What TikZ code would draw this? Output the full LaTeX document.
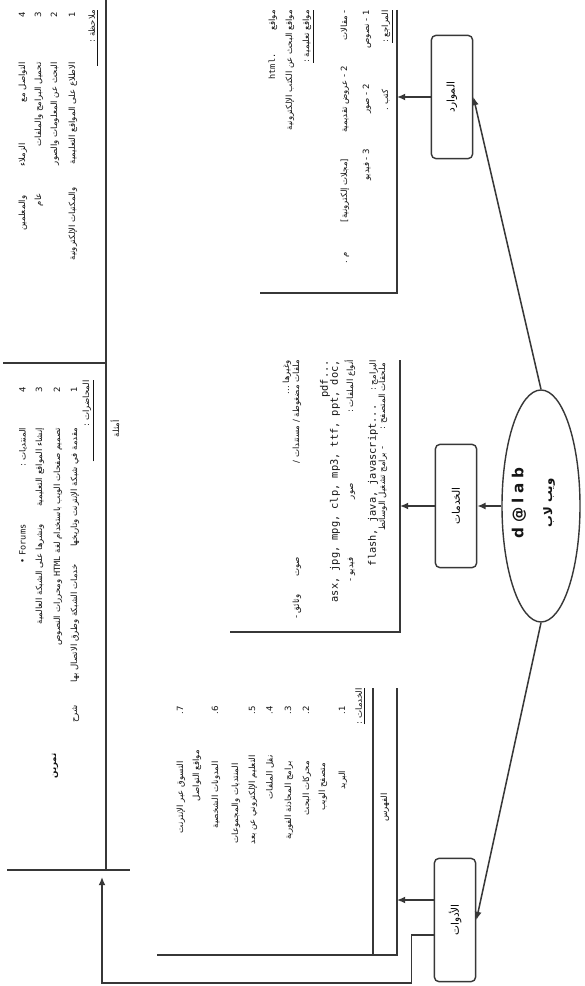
\documentclass[tikz,border=0pt]{standalone}
\usepackage{fontspec}
\usepackage{tikz}
\usetikzlibrary{shapes.geometric, arrows.meta, positioning, calc}
\TeXXeTstate=1
\newfontfamily\arabicfont[Script=Arabic]{DejaVu Sans}
\newfontfamily\latinfont{DejaVu Sans Mono}
\newfontfamily\logofont[LetterSpace=30]{DejaVu Sans}
\definecolor{trait}{RGB}{55, 55, 55}
\definecolor{encre}{RGB}{20, 20, 20}
\newcommand{\arb}[1]{{\arabicfont\beginR #1\endR}}
\newcommand{\sous}[1]{\underline{\beginR #1\endR}}

\begin{document}
\begin{tikzpicture}[x=0.03cm, y=-0.03cm,
  boite/.style={rectangle, draw=trait, rounded corners=4pt, line width=1.2pt,
    minimum width=1.24cm, minimum height=3.7cm, inner sep=0pt,
    font=\fontsize{9}{10}\selectfont},
  fleche/.style={draw=trait, line width=1.3pt, -{Latex[length=7pt, width=6pt]}},
  cadre/.style={draw=trait, line width=1.3pt},
  txt/.style={rotate=90, anchor=east, inner sep=0pt, text=encre,
    font=\fontsize{7.3}{8}\selectfont},
  latin/.style={txt, font=\latinfont\fontsize{8.8}{9}\selectfont},
  titre/.style={rotate=90, inner sep=0pt, text=encre},
]
\useasboundingbox (0,0) rectangle (584,986);
\fill[white] (0,0) rectangle (584,986);
\node[ellipse, draw=trait, line width=1.2pt, minimum width=2.34cm,
  minimum height=6.96cm] (site) at (541,506) {};
\node[titre, font=\bfseries\fontsize{10}{11}\selectfont] (nom) at (549,503) {\arb{ويب لاب}};
\node[titre, font=\logofont\bfseries\fontsize{13}{14}\selectfont] (logo) at (519,503) {d@lab};
\node[boite] (res)   at (452,97)  {\rotatebox{90}{\arb{الموارد}}};
\node[boite] (serv)  at (456,506) {\rotatebox{90}{\arb{الخدمات}}};
\node[boite] (tools) at (455,920) {\rotatebox{90}{\arb{الأدوات}}};
\coordinate (fres)   at (397,97);
\coordinate (fserv)  at (400,506);
\coordinate (ftools) at (397,900);
\coordinate (coin)   at (102,983);
\coordinate (fbas)   at (102,877);
\draw[fleche] (site.north) -- (res.east);
\draw[fleche] (site.west)  -- (serv.east);
\draw[fleche] (site.south) -- (tools.east);
\draw[fleche] (res.west)  -- (fres);
\draw[fleche] (serv.west) -- (fserv);
\draw[fleche] ($(tools.west)+(0,-20)$) -- (ftools);
\draw[fleche] ($(tools.west)+(0,15)$) -- ++(-22,0) |- (coin) -- (fbas);
\draw[cadre] (397,10)  -- (397,293) -- (260,293);
\draw[cadre] (400,360) -- (400,632) -- (230,632);
\draw[cadre] (397,688) -- (397,955) -- (157,955);
\draw[cadre] (373,688) -- (373,955);
\draw[cadre] (106,0)   -- (106,870);
\draw[cadre] (3,363)   -- (106,363);
\draw[cadre] (7,870)   -- (130,870);
\node[txt] (m1) at (387,10) {\arb{\sous{المراجع :}\hspace{40pt}كتب .}};
\node[txt] (m2) at (367,10) {\arb{1 - نصوص\hspace{30pt}2 - صور\hspace{30pt}3 - فيديو}};
\node[txt] (m3) at (345,10) {\arb{- مقالات\hspace{22pt}2 - عروض تقديمية\hspace{22pt}[مجلات إلكترونية]\hspace{26pt}م .}};
\node[txt] (m4) at (308,10) {\arb{\sous{مواقع تعليمية :}}};
\node[txt] (m5) at (290,10) {\arb{مواقع البحث عن الكتب الإلكترونية}};
\node[txt] (m6) at (273,10) {\arb{مواقع\hspace{20pt}{\latinfont\beginL html.\endL}}};
\node[txt] (s1) at (383,363) {\arb{ملحقات المتصفح :\hspace{15pt}- برامج تشغيل الوسائط}};
\node[txt] (s2) at (373,360) {\arb{البرامج :\hspace{12pt}{\latinfont\fontsize{8.8}{9}\selectfont\beginL flash, java, javascript...\endL}}};
\node[txt] (s3) at (350,360) {\arb{أنواع الملفات :\hspace{60pt}صور\hspace{50pt}فيديو -}};
\node[latin] (s4) at (335,360) {asx, jpg, mpg, clp, mp3, ttf, ppt, doc,};
\node[latin] (s5) at (325,360) {pdf...};
\node[txt] (s6) at (297,360) {\arb{ملفات مضغوطة / مستندات /\hspace{80pt}صوت\hspace{15pt}وثائق -}};
\node[txt] (s7) at (287,360) {\arb{وغيرها ...}};
\node[txt] (o0) at (385,793) {\arb{الفهرس}};
\node[txt] (o1) at (360,688) {\arb{\sous{الخدمات :}}};
\node[txt] (o2) at (343,706) {\arb{1.\hspace{48pt}البريد}};
\node[txt] (o3) at (323,763) {\arb{متصفح الويب}};
\node[txt] (o4) at (307,706) {\arb{2.\hspace{40pt}محركات البحث}};
\node[txt] (o5) at (289,706) {\arb{3.\hspace{40pt}برامج المحادثة الفورية}};
\node[txt] (o6) at (270,706) {\arb{4.\hspace{35pt}نقل الملفات}};
\node[txt] (o7) at (253,706) {\arb{5.\hspace{35pt}التعليم الإلكتروني عن بعد}};
\node[txt] (o8) at (236,763) {\arb{المنتديات والمجموعات}};
\node[txt] (o9) at (216,706) {\arb{6.\hspace{40pt}المدونات الشخصية}};
\node[txt] (o10) at (197,750) {\arb{مواقع التواصل}};
\node[txt] (o11) at (181,706) {\arb{7.\hspace{40pt}التسوق عبر الإنترنت}};
\node[txt] (g0) at (93,10) {\arb{\sous{ملاحظة :\hspace{20pt}}}};
\node[txt] (g1) at (73,12) {\arb{1\hspace{38pt}الاطلاع على المواقع التعليمية\hspace{20pt}والمكتبات الإلكترونية}};
\node[txt] (g2) at (55,12) {\arb{2\hspace{38pt}البحث عن المعلومات والصور}};
\node[txt] (g3) at (39,12) {\arb{3\hspace{38pt}تحميل البرامج والملفات\hspace{40pt}عام}};
\node[txt] (g4) at (23,12) {\arb{4\hspace{38pt}التواصل مع\hspace{35pt}الزملاء\hspace{25pt}والمعلمين}};
\node[txt] (h0) at (88,380) {\arb{\sous{المحاضرات :\hspace{30pt}}}};
\node[txt] (h1) at (75,387) {\arb{1\hspace{30pt}مقدمة في شبكة الإنترنت وتاريخها\hspace{15pt}خدمات الشبكة وطرق الاتصال بها\hspace{20pt}شرح}};
\node[txt] (h2) at (58,387) {\arb{2\hspace{30pt}تصميم صفحات الويب باستخدام لغة {\latinfont\beginL HTML\endL} ومحررات النصوص}};
\node[txt] (h3) at (40,387) {\arb{3\hspace{30pt}إنشاء المواقع التعليمية\hspace{15pt}ونشرها على الشبكة العالمية}};
\node[txt] (h4) at (23,387) {\arb{4\hspace{30pt}المنتديات :\hspace{50pt}{\latinfont\beginL Forums\endL} •}};
\node[txt, font=\bfseries\fontsize{7.3}{8}\selectfont] (h5) at (55,753) {\arb{تمرين}};
\node[txt] (h6) at (115,420) {\arb{أمثلة}};
\end{tikzpicture}
\end{document}
